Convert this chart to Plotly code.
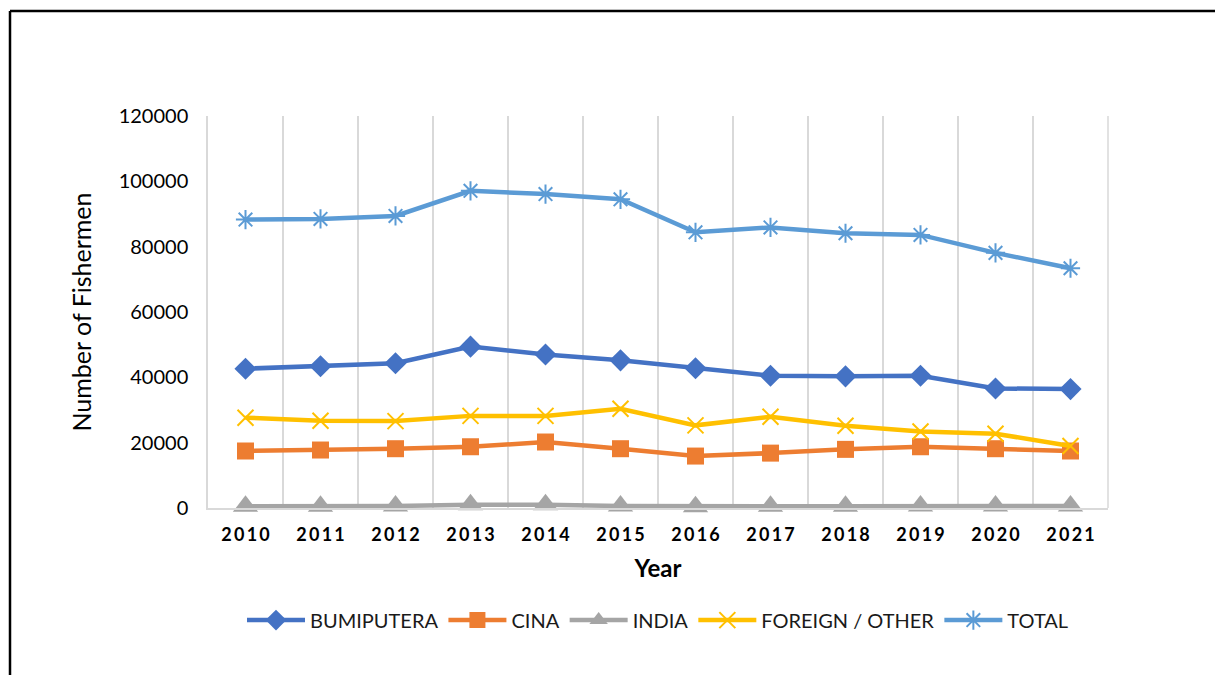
import plotly.graph_objects as go

# Fishermen counts by year and group
years = ['2010', '2011', '2012', '2013', '2014', '2015', '2016', '2017', '2018', '2019', '2020', '2021']
bumiputera = [42650, 43400, 44300, 49400, 47000, 45200, 42800, 40500, 40300, 40500, 36600, 36400]
cina = [17450, 17750, 18150, 18750, 20200, 18150, 15900, 16800, 17950, 18750, 18150, 17450]
india = [500, 500, 600, 1000, 1000, 600, 400, 500, 500, 600, 600, 600]
foreign = [27650, 26700, 26600, 28200, 28200, 30400, 25300, 27950, 25200, 23400, 22750, 19000]
total = [88300, 88500, 89400, 97100, 96100, 94500, 84400, 85900, 84100, 83600, 78100, 73400]

series = [
    ('BUMIPUTERA', bumiputera, '#4472C4', 'diamond', 17),
    ('CINA', cina, '#ED7D31', 'square', 17),
    ('INDIA', india, '#A5A5A5', 'triangle-up', 22),
    ('FOREIGN / OTHER', foreign, '#FFC000', 'x-thin-open', 16),
    ('TOTAL', total, '#5B9BD5', 'asterisk-open', 16),
]

tick_text = ['\u2009'.join(y) for y in years]

fig = go.Figure()
for name, values, color, symbol, size in series:
    open_marker = symbol.endswith('open')
    fig.add_trace(go.Scatter(
        x=years,
        y=values,
        name=name,
        mode='lines+markers',
        line=dict(color=color, width=4.5),
        marker=dict(
            symbol=symbol,
            size=size,
            color=color,
            line=dict(color=color, width=2 if open_marker else 0),
        ),
        cliponaxis=False,
    ))

# page body has an 8px margin, so the plot area is shifted by that much
fig.update_layout(
    width=1223,
    height=675,
    margin=dict(l=200, r=123, t=108, b=175),
    paper_bgcolor='white',
    plot_bgcolor='white',
    font=dict(family='Lato', color='black'),
    showlegend=True,
    legend=dict(
        orientation='h',
        x=0.5, xanchor='center',
        y=-0.286, yanchor='middle',
        font=dict(size=20, color='#1a1a1a'),
        itemwidth=58,
        tracegroupgap=0,
    ),
    xaxis=dict(
        type='category',
        tickmode='array',
        tickvals=years,
        ticktext=tick_text,
        tickson='boundaries',
        ticks='',
        showgrid=True,
        gridcolor='#D9D9D9',
        gridwidth=1.5,
        showline=True,
        linecolor='#D9D9D9',
        linewidth=1.5,
        tickfont=dict(size=18, family='Lato', color='black', weight='bold'),
        ticklabelstandoff=10,
        title=dict(text='<b>Year</b>', font=dict(size=24), standoff=16),
        range=[-0.5, 11.5],
        zeroline=False,
    ),
    yaxis=dict(
        range=[0, 120000],
        dtick=20000,
        showgrid=False,
        zeroline=False,
        showline=True,
        linecolor='#D9D9D9',
        linewidth=1.5,
        ticks='',
        tickformat='d',
        tickfont=dict(size=20, color='black'),
        ticklabelstandoff=14,
        title=dict(text='Number of Fishermen', font=dict(size=25), standoff=20),
    ),
    shapes=[
        # outer frame (left and top only)
        dict(type='line', xref='paper', yref='paper', x0=-198 / 900, x1=-198 / 900,
             y0=(500 - 3) / 392, y1=(500 - 700) / 392, line=dict(color='black', width=2.5)),
        dict(type='line', xref='paper', yref='paper', x0=-198 / 900, x1=1.15,
             y0=(500 - 3) / 392, y1=(500 - 3) / 392, line=dict(color='black', width=2.5)),
        # right edge of the plot area
        dict(type='line', xref='paper', yref='paper', x0=1, x1=1, y0=0, y1=1,
             line=dict(color='#D9D9D9', width=1.5), layer='below'),
    ],
)

fig.write_html('out.html')
